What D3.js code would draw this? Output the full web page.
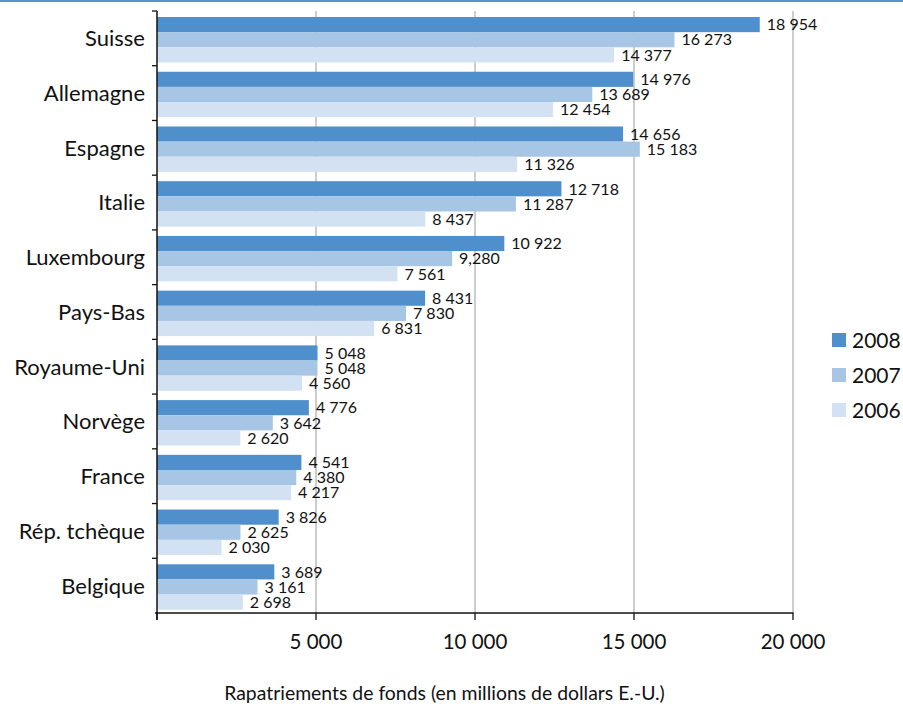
<!DOCTYPE html>
<html lang="fr">
<head>
<meta charset="utf-8">
<script src="https://cdn.jsdelivr.net/npm/d3@7"></script>
<style>
  html, body { margin: 0; padding: 0; background: #fff; }
  svg { display: block; }
  text { font-family: Lato, "Noto Sans", sans-serif; fill: #111; }
</style>
</head>
<body>
<svg id="chart" width="903" height="707"></svg>
<script>
// Remittances by country, in millions of US dollars
const countries = ["Suisse", "Allemagne", "Espagne", "Italie", "Luxembourg", "Pays-Bas",
  "Royaume-Uni", "Norvège", "France", "Rép. tchèque", "Belgique"];
const years = ["2008", "2007", "2006"];
const values2008 = [18954, 14976, 14656, 12718, 10922, 8431, 5048, 4776, 4541, 3826, 3689];
const values2007 = [16273, 13689, 15183, 11287, 9280, 7830, 5048, 3642, 4380, 2625, 3161];
const values2006 = [14377, 12454, 11326, 8437, 7561, 6831, 4560, 2620, 4217, 2030, 2698];
const xTicks = [0, 5000, 10000, 15000, 20000];
const axisTitle = "Rapatriements de fonds (en millions de dollars E.-U.)";
// Value printed with a comma separator in the source table
const labelOverrides = { "Luxembourg|2007": "9,280" };

const seriesValues = { "2008": values2008, "2007": values2007, "2006": values2006 };
const colors = { "2008": "#4f8fcc", "2007": "#a7c6e5", "2006": "#d3e2f3" };

const svg = d3.select("#chart");
const W = 903;

const fmt = d3.formatLocale({ decimal: ",", thousands: "\u00a0", grouping: [3], currency: ["", ""] }).format(",d");

const x = d3.scaleLinear().domain([0, 20000]).range([157, 793]);
const y = d3.scaleBand().domain(countries).range([11, 613]).padding(0);
const step = y.step();
const yInner = d3.scaleBand().domain(years).range([step * 0.11, step * 0.94]).padding(0);

// top rule
svg.append("rect").attr("x", 0).attr("y", 0).attr("width", W).attr("height", 2).attr("fill", "#5592cf");

// vertical gridlines
svg.append("g").selectAll("line").data(xTicks.filter(d => d > 0)).join("line")
  .attr("x1", d => x(d)).attr("x2", d => x(d))
  .attr("y1", y.range()[0]).attr("y2", y.range()[1])
  .attr("stroke", "#9a9a9a").attr("stroke-width", 1);

// bars
const rows = countries.flatMap((c, i) => years.map(yr => ({ country: c, year: yr, value: seriesValues[yr][i] })));
const g = svg.append("g");
g.selectAll("rect").data(rows).join("rect")
  .attr("x", x(0))
  .attr("y", d => y(d.country) + yInner(d.year))
  .attr("width", d => x(d.value) - x(0))
  .attr("height", yInner.bandwidth())
  .attr("fill", d => colors[d.year]);

// value labels
g.selectAll("text").data(rows).join("text")
  .attr("x", d => x(d.value) + 7)
  .attr("y", d => y(d.country) + yInner(d.year) + yInner.bandwidth() / 2)
  .attr("dy", "0.36em")
  .attr("font-size", 16)
  .text(d => labelOverrides[d.country + "|" + d.year] || fmt(d.value));

// x axis
const xAxis = svg.append("g").attr("transform", `translate(0,${y.range()[1]})`);
xAxis.append("line").attr("x1", x(0) - 2).attr("x2", x(20000) + 0.5)
  .attr("y1", 0).attr("y2", 0).attr("stroke", "#111").attr("stroke-width", 1.3);
xAxis.selectAll("line.tick").data(xTicks).join("line").attr("class", "tick")
  .attr("x1", d => x(d)).attr("x2", d => x(d)).attr("y1", 0).attr("y2", 7)
  .attr("stroke", "#111").attr("stroke-width", 1.3);
xAxis.selectAll("text").data(xTicks.filter(d => d > 0)).join("text")
  .attr("x", d => x(d)).attr("y", 36)
  .attr("text-anchor", "middle").attr("font-size", 20.5)
  .text(d => fmt(d));

// y axis
const yAxis = svg.append("g");
yAxis.append("line").attr("x1", x(0)).attr("x2", x(0))
  .attr("y1", y.range()[0]).attr("y2", y.range()[1] + 7)
  .attr("stroke", "#111").attr("stroke-width", 1.5);
yAxis.selectAll("line.tick").data(d3.range(countries.length)).join("line").attr("class", "tick")
  .attr("x1", x(0) - 5).attr("x2", x(0))
  .attr("y1", i => y.range()[0] + i * step).attr("y2", i => y.range()[0] + i * step)
  .attr("stroke", "#111").attr("stroke-width", 1.3);
yAxis.selectAll("text").data(countries).join("text")
  .attr("x", 145)
  .attr("y", d => y(d) + step / 2)
  .attr("dy", "0.36em")
  .attr("text-anchor", "end").attr("font-size", 22)
  .text(d => d);

// axis title
svg.append("text").attr("x", (225 + 664) / 2).attr("y", 700)
  .attr("text-anchor", "middle").attr("font-size", 19.4).text(axisTitle);

// legend
const legend = svg.append("g").attr("transform", "translate(832,333)");
const lg = legend.selectAll("g").data(years).join("g")
  .attr("transform", (d, i) => `translate(0,${i * 35})`);
lg.append("rect").attr("width", 14).attr("height", 14).attr("fill", d => colors[d]);
lg.append("text").attr("x", 20).attr("y", 7).attr("dy", "0.36em").attr("font-size", 21).text(d => d);
</script>
</body>
</html>
